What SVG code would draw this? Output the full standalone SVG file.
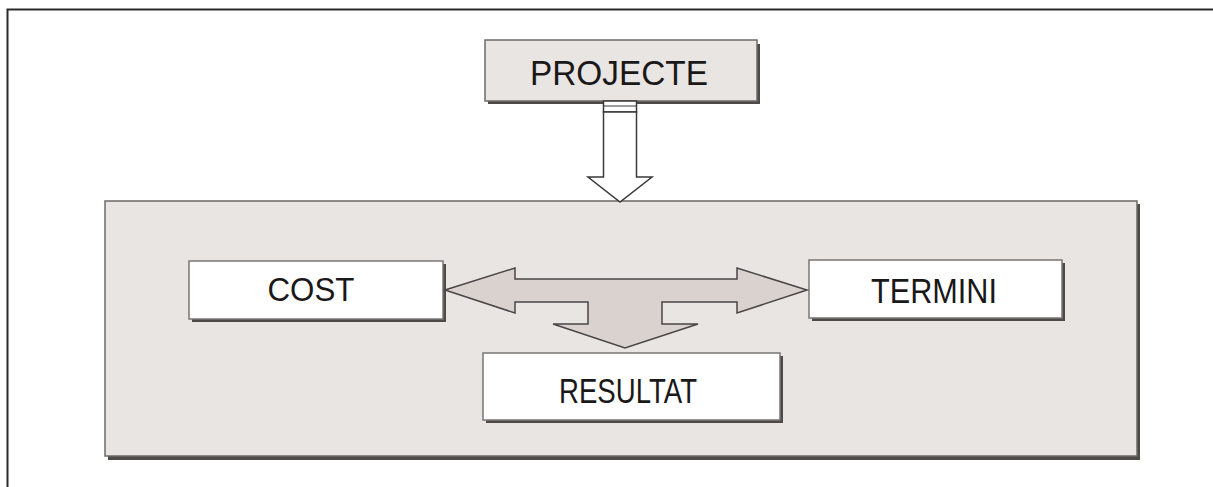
<svg xmlns="http://www.w3.org/2000/svg" width="1213" height="487" viewBox="0 0 1213 487">
  <style>
    .shadow { fill: #4e4a48; }
    .panel { fill: #e8e5e3; stroke: #6e6a68; stroke-width: 1.5; }
    .box { fill: #ffffff; stroke: #7a7674; stroke-width: 1.5; }
    .label { font-family: "Liberation Sans", "Open Sans", sans-serif; fill: #1a1818; text-anchor: middle; }
    .hollow { fill: #ffffff; stroke: #3a3838; stroke-width: 1.5; stroke-linejoin: miter; }
    .flow { fill: #d9d2cf; stroke: #4a4646; stroke-width: 1.5; stroke-linejoin: miter; }
  </style>

  <!-- page frame -->
  <path d="M7.5 487 V9.5 H1213" fill="none" stroke="#2a2a2a" stroke-width="2"/>

  <!-- outer panel -->
  <g id="panel">
    <rect class="shadow" x="108" y="204" width="1032" height="256"/>
    <rect class="panel" x="105" y="201" width="1032" height="255"/>
  </g>

  <!-- top node -->
  <g id="projecte">
    <rect class="shadow" x="488" y="44" width="272" height="60"/>
    <rect class="panel" x="485" y="40" width="272" height="61"/>
    <text class="label" x="619" y="85" font-size="35" textLength="178" lengthAdjust="spacingAndGlyphs">PROJECTE</text>
  </g>

  <g id="cost">
    <rect class="shadow" x="192" y="264" width="254" height="58"/>
    <rect class="box" x="189" y="261" width="254" height="58"/>
    <text class="label" x="311" y="301" font-size="34" textLength="87" lengthAdjust="spacingAndGlyphs">COST</text>
  </g>

  <g id="termini">
    <rect class="shadow" x="812" y="263" width="253" height="58"/>
    <rect class="box" x="809" y="260" width="253" height="58"/>
    <text class="label" x="934" y="303" font-size="35" textLength="126" lengthAdjust="spacingAndGlyphs">TERMINI</text>
  </g>

  <g id="resultat">
    <rect class="shadow" x="486" y="356" width="297" height="67"/>
    <rect class="box" x="483" y="353" width="297" height="67"/>
    <text class="label" x="628" y="403" font-size="35" textLength="138" lengthAdjust="spacingAndGlyphs">RESULTAT</text>
  </g>

  <!-- connectors -->
  <g id="connectors">
    <!-- hollow arrow from PROJECTE down into the panel -->
    <rect class="hollow" x="603.5" y="101" width="33" height="11"/>
    <line x1="603.5" y1="106" x2="636.5" y2="106" stroke="#3a3838" stroke-width="1.2"/>
    <path class="hollow" d="M603.5 112 H636.5 V177 H652 L620 202 L588 177 H603.5 Z"/>

    <!-- shaded three-way arrow between COST, TERMINI and RESULTAT -->
    <path class="flow" d="M445 290 L515 268 V279 H737 V268 L807 290 L737 313 V302 H662 V324 H698 L625 348 L553 324 H588 V302 H515 V313 Z"/>
  </g>
</svg>
